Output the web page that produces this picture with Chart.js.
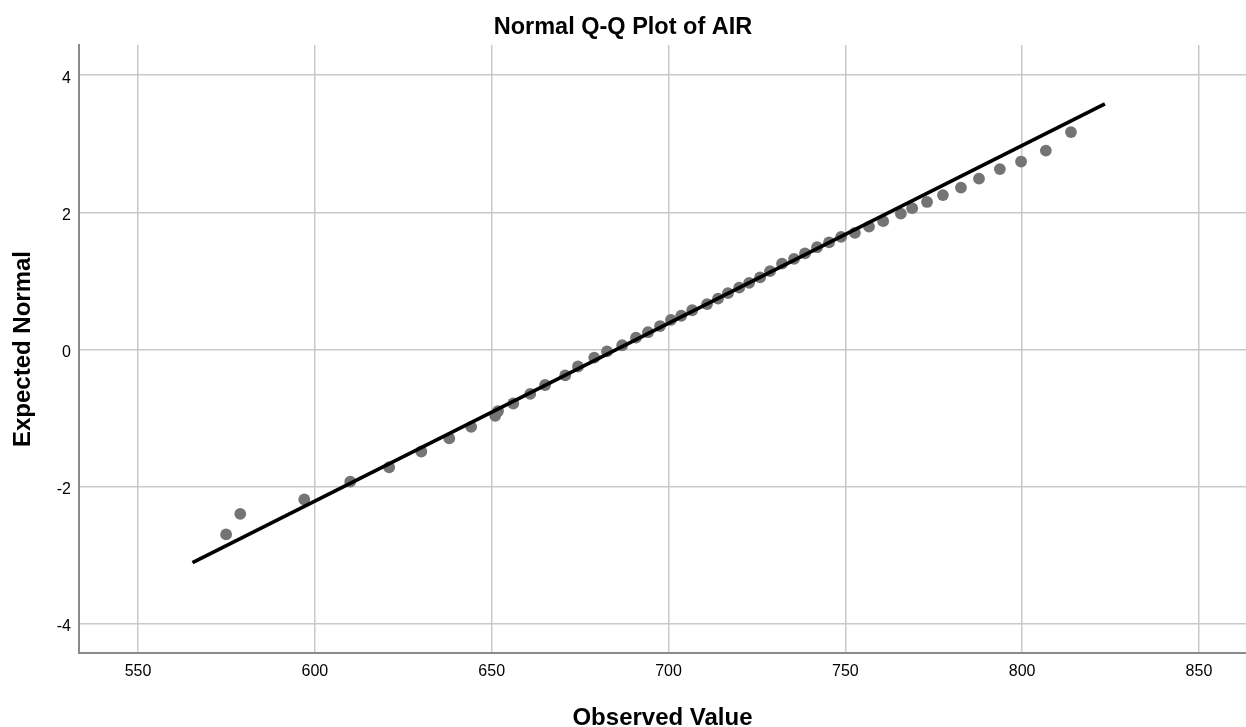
<!DOCTYPE html>
<html>
<head>
<meta charset="utf-8">
<script src="https://cdn.jsdelivr.net/npm/chart.js@4/dist/chart.umd.min.js"></script>
<style>
  html, body { margin: 0; padding: 0; background: #ffffff; }
  #wrap { width: 1246px; height: 727px; }
</style>
</head>
<body>
<div id="wrap"><canvas id="c" width="1246" height="727"></canvas></div>
<script>
const observed = [574.9, 578.9, 597.0, 610.0, 621.0, 630.1, 638.0, 644.2, 651.0, 651.8,
  656.1, 660.9, 665.1, 670.8, 674.4, 679.0, 682.6, 686.9, 690.8, 694.2,
  697.6, 700.7, 703.6, 706.7, 710.9, 714.0, 716.8, 720.0, 722.8, 725.9,
  728.7, 732.1, 735.5, 738.6, 742.0, 745.4, 748.8, 752.7, 756.7, 760.7,
  765.7, 768.9, 773.1, 777.6, 782.7, 787.8, 793.7, 799.7, 806.7, 813.8];
const expected = [-2.70, -2.40, -2.19, -1.93, -1.72, -1.49, -1.30, -1.13, -0.97, -0.90,
  -0.79, -0.65, -0.52, -0.38, -0.25, -0.12, -0.03, 0.06, 0.17, 0.25,
  0.34, 0.43, 0.49, 0.57, 0.66, 0.74, 0.82, 0.90, 0.97, 1.05,
  1.14, 1.25, 1.32, 1.40, 1.49, 1.56, 1.64, 1.70, 1.79, 1.87,
  1.98, 2.06, 2.15, 2.25, 2.36, 2.49, 2.63, 2.74, 2.90, 3.17];
// Reference line end points
const lineX = [565.4, 823.4];
const lineY = [-3.11, 3.58];
// Tick labels
const xTicks = [550, 600, 650, 700, 750, 800, 850];
const yTicks = [-4, -2, 0, 2, 4];

const FONT = "'Liberation Sans', Arial, sans-serif";

const points = observed.map((v, i) => ({ x: v, y: expected[i] }));
const refLine = lineX.map((v, i) => ({ x: v, y: lineY[i] }));

new Chart(document.getElementById('c'), {
  type: 'scatter',
  data: {
    datasets: [
      {
        label: 'Line',
        data: refLine,
        showLine: true,
        borderColor: '#000000',
        borderWidth: 3.6,
        pointRadius: 0,
        pointHoverRadius: 0,
        fill: false
      },
      {
        label: 'AIR',
        data: points,
        pointRadius: 5.9,
        pointHoverRadius: 5.9,
        pointBackgroundColor: '#747474',
        pointBorderColor: '#747474',
        pointBorderWidth: 0,
        showLine: false
      }
    ]
  },
  options: {
    responsive: false,
    animation: false,
    layout: { padding: 0, autoPadding: false },
    plugins: {
      legend: { display: false },
      tooltip: { enabled: false },
      title: {
        display: true,
        text: 'Normal Q-Q Plot of AIR',
        color: '#000000',
        font: { family: FONT, size: 23.5, weight: 'bold', lineHeight: 1.2 },
        padding: { top: 13.6, bottom: 3.2 }
      }
    },
    scales: {
      x: {
        type: 'linear',
        min: 533.3,
        max: 863.3,
        afterFit: (s) => { s.height = 74; s.paddingLeft = 0; s.paddingRight = 0; },
        afterBuildTicks: (s) => { s.ticks = xTicks.map(v => ({ value: v })); },
        ticks: {
          stepSize: 50,
          includeBounds: false,
          padding: 9,
          color: '#000000',
          font: { family: FONT, size: 16 },
          maxRotation: 0
        },
        grid: { color: '#c9c9c9', lineWidth: 1.5, drawTicks: false },
        border: { display: true, color: '#8a8a8a', width: 2 },
        title: {
          display: true,
          text: 'Observed Value',
          color: '#000000',
          font: { family: FONT, size: 24, weight: 'bold', lineHeight: 0.7 },
          padding: { top: 0, bottom: 0 }
        }
      },
      y: {
        type: 'linear',
        min: -4.43,
        max: 4.44,
        afterFit: (s) => { s.width = 79; },
        afterBuildTicks: (s) => { s.ticks = yTicks.map(v => ({ value: v })); },
        ticks: {
          stepSize: 2,
          includeBounds: false,
          padding: 8,
          labelOffset: 3,
          color: '#000000',
          font: { family: FONT, size: 16 }
        },
        grid: { color: '#c9c9c9', lineWidth: 1.5, drawTicks: false },
        border: { display: true, color: '#8a8a8a', width: 2 },
        title: {
          display: true,
          text: 'Expected Normal',
          color: '#000000',
          font: { family: FONT, size: 24, weight: 'bold', lineHeight: 1 },
          padding: { top: 11.5, bottom: 0 }
        }
      }
    }
  }
});
</script>
</body>
</html>
